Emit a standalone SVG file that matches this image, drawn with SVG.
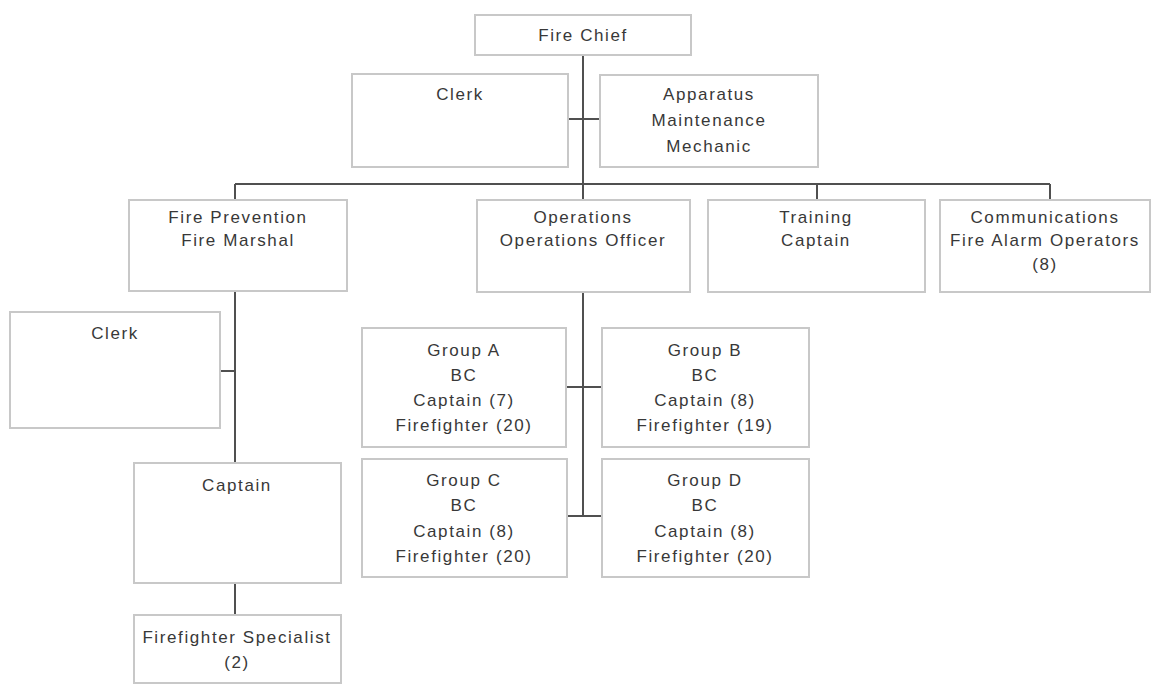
<svg xmlns="http://www.w3.org/2000/svg" width="1152" height="685" viewBox="0 0 1152 685">
<style>
.box{fill:#fff;stroke:#c8c8c8;stroke-width:2}
.t{font-family:"Liberation Sans",Arial,sans-serif;font-size:17px;letter-spacing:1.6px;fill:#383838;text-anchor:middle}
.c{stroke:#505050;stroke-width:2;fill:none}
</style>
<rect width="1152" height="685" fill="#fff"/>
<g id="connectors">
<path class="c" d="M583 55V200M568 119H600M235 184H1050M235 184V200M817 184V200M1050 184V200M235 291V463M220 371H235M235 583V615M583 292V516M566 387H602M567 516H602"/>
</g>
<g id="fire-chief"><rect class="box" x="475" y="15" width="216" height="40"/><text class="t" x="583" y="41">Fire Chief</text></g>
<g id="clerk-top"><rect class="box" x="352" y="74" width="216" height="93"/><text class="t" x="460" y="100">Clerk</text></g>
<g id="apparatus"><rect class="box" x="600" y="75" width="218" height="92"/><text class="t" x="709" y="100">Apparatus</text><text class="t" x="709" y="126">Maintenance</text><text class="t" x="709" y="152">Mechanic</text></g>
<g id="fire-prevention"><rect class="box" x="129" y="200" width="218" height="91"/><text class="t" x="238" y="223">Fire Prevention</text><text class="t" x="238" y="246">Fire Marshal</text></g>
<g id="operations"><rect class="box" x="477" y="200" width="213" height="92"/><text class="t" x="583" y="223">Operations</text><text class="t" x="583" y="246">Operations Officer</text></g>
<g id="training"><rect class="box" x="708" y="200" width="217" height="92"/><text class="t" x="816" y="223">Training</text><text class="t" x="816" y="246">Captain</text></g>
<g id="communications"><rect class="box" x="940" y="200" width="210" height="92"/><text class="t" x="1045" y="223">Communications</text><text class="t" x="1045" y="246">Fire Alarm Operators</text><text class="t" x="1045" y="270">(8)</text></g>
<g id="clerk-fp"><rect class="box" x="10" y="312" width="210" height="116"/><text class="t" x="115" y="339">Clerk</text></g>
<g id="captain-fp"><rect class="box" x="134" y="463" width="207" height="120"/><text class="t" x="237" y="491">Captain</text></g>
<g id="ff-specialist"><rect class="box" x="134" y="615" width="207" height="68"/><text class="t" x="237" y="643">Firefighter Specialist</text><text class="t" x="237" y="668">(2)</text></g>
<g id="group-a"><rect class="box" x="362" y="328" width="204" height="119"/><text class="t" x="464" y="356">Group A</text><text class="t" x="464" y="381">BC</text><text class="t" x="464" y="406">Captain (7)</text><text class="t" x="464" y="431">Firefighter (20)</text></g>
<g id="group-b"><rect class="box" x="602" y="328" width="207" height="119"/><text class="t" x="705" y="356">Group B</text><text class="t" x="705" y="381">BC</text><text class="t" x="705" y="406">Captain (8)</text><text class="t" x="705" y="431">Firefighter (19)</text></g>
<g id="group-c"><rect class="box" x="362" y="459" width="205" height="118"/><text class="t" x="464" y="486">Group C</text><text class="t" x="464" y="511">BC</text><text class="t" x="464" y="537">Captain (8)</text><text class="t" x="464" y="562">Firefighter (20)</text></g>
<g id="group-d"><rect class="box" x="602" y="459" width="207" height="118"/><text class="t" x="705" y="486">Group D</text><text class="t" x="705" y="511">BC</text><text class="t" x="705" y="537">Captain (8)</text><text class="t" x="705" y="562">Firefighter (20)</text></g>
</svg>
